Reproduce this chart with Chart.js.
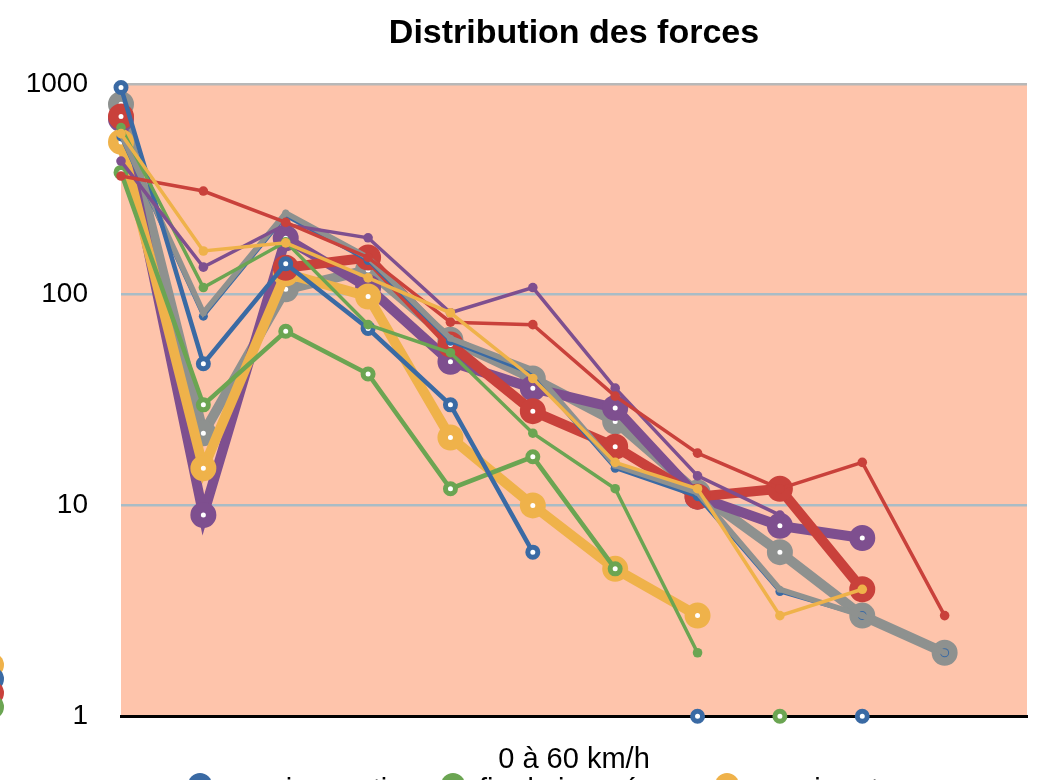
<!DOCTYPE html>
<html lang="fr">
<head>
<meta charset="utf-8">
<title>Distribution des forces</title>
<script src="https://cdn.jsdelivr.net/npm/chart.js@4.4.1/dist/chart.umd.min.js"></script>
<style>
    html, body { margin: 0; padding: 0; overflow: hidden; background: #fff; }
    #wrap { position: relative; width: 1049px; height: 780px; overflow: hidden; font-family: "Liberation Sans", Arial, Helvetica, sans-serif; }
    #chart { display: block; }
    #legend { position: absolute; left: 188px; top: 773px; display: flex; white-space: nowrap; font-size: 29px; line-height: 24px; }
    #legend .item { display: flex; align-items: flex-start; }
    #legend .dot { width: 24px; height: 24px; border-radius: 50%; margin-right: 14px; flex: none; }
    #legend .txt { position: relative; top: 4px; }
    #sideKey { position: absolute; left: -20px; top: 653px; }
    #sideKey .dot { width: 24px; height: 24px; border-radius: 50%; margin-bottom: -10px; }
</style>
</head>
<body>
<div id="wrap">
    <canvas id="chart" width="1049" height="780"></canvas>
    <div id="sideKey"></div>
    <div id="legend"></div>
</div>
<script>
// Axis
const categories = ['1', '2', '3', '4', '5', '6', '7', '8', '9', '10', '11', '12'];
const yTicks = [1, 10, 100, 1000];

// Series (null = no measurement)
const yellowThin  = [580, 161, 176, 120, 82, 40, 16, 12, 3, 4, null];
const redThin     = [365, 310, 220, 150, 74, 72, 33, 17.7, 12, 16, 3];
const purpleThin  = [430, 135, 215, 186, 82, 108, 36, 13.8, 9, null, null];
const greenDots   = [620, 108, 178, 72, 53, 22, 12, 2, null, null, null];
const blueRings   = [960, 47, 140, 69, 30, 6, null, 1, null, 1, null];
const greenRings  = [380, 30, 67, 42, 12, 17, 5, null, 1, null, null];
const grayLine    = [580, 82, 244, 150, 62, 44, 15.5, 11.5, 4, 3, 2];
const blueLine    = [560, 79, 236, 145, 60, 42, 15, 11, 3.9, 3, 2];
const redThick    = [700, null, 134, 150, 58, 28, 19, 11, 12, 4, null];
const yellowThick = [530, 15, 126, 98, 21, 10, 5, 3, null, null, null];
const purpleThick = [680, 9, 185, 108, 48, 36, 29, 11, 8, 7, null];
const grayThick   = [800, 22, 106, 131, 61, 40, 25, 11.5, 6, 3, 2];

const legendNames = ['session matin', 'fin de journée', 'essai route'];

const COLORS = {
    blue: '#3a6aa4',
    green: '#6ba552',
    yellow: '#efb24a',
    red: '#c9413b',
    purple: '#7e4f8f',
    gray: '#8e918f'
};

// line styles
function thin(label, data, color) {
    return { label, data, borderColor: color, backgroundColor: color, borderWidth: 3.5,
        pointRadius: 4.8, pointBorderWidth: 0, pointBackgroundColor: color };
}
function ring(label, data, color) {
    return { label, data, borderColor: color, backgroundColor: color, borderWidth: 4.5,
        pointRadius: 5, pointBorderWidth: 5, pointBorderColor: color, pointBackgroundColor: '#fff' };
}
function thick(label, data, color) {
    return { label, data, borderColor: color, backgroundColor: color, borderWidth: 10,
        pointRadius: 7.75, pointBorderWidth: 10.5, pointBorderColor: color, pointBackgroundColor: '#fff' };
}

// first dataset is drawn on top
const datasets = [
    thin('jaune 2', yellowThin, COLORS.yellow),
    thin('rouge 2', redThin, COLORS.red),
    thin('violet 2', purpleThin, COLORS.purple),
    thin('vert 2', greenDots, COLORS.green),
    ring(legendNames[0], blueRings, COLORS.blue),
    ring(legendNames[1], greenRings, COLORS.green),
    Object.assign(thin('gris 2', grayLine, COLORS.gray), { borderWidth: 5.5, pointRadius: 3.5 }),
    Object.assign(thin('bleu 2', blueLine, COLORS.blue), { borderWidth: 3.5, pointRadius: 4.5 }),
    thick('rouge', redThick, COLORS.red),
    thick(legendNames[2], yellowThick, COLORS.yellow),
    thick('violet', purpleThick, COLORS.purple),
    thick('gris', grayThick, COLORS.gray)
];

// salmon plot background
const plotBackground = {
    id: 'plotBackground',
    beforeDraw(chart) {
        const a = chart.chartArea;
        const ctx = chart.ctx;
        ctx.save();
        ctx.fillStyle = '#fec4ab';
        ctx.fillRect(a.left, a.top, a.right - a.left, a.bottom - a.top);
        ctx.restore();
    }
};

const chart = new Chart(document.getElementById('chart'), {
    type: 'line',
    data: { labels: categories, datasets: datasets },
    options: {
        responsive: false,
        animation: false,
        layout: { padding: { left: 26, right: 22, top: 0, bottom: 3 } },
        elements: { line: { tension: 0 } },
        datasets: { line: { clip: false, spanGaps: false } },
        plugins: {
            legend: { display: false },
            tooltip: { enabled: false },
            title: {
                display: true,
                fullSize: false,
                text: 'Distribution des forces',
                color: '#000',
                font: { family: '"Liberation Sans", Arial, sans-serif', size: 34, weight: 'bold' },
                padding: { top: 13, bottom: 30 }
            }
        },
        scales: {
            x: {
                type: 'category',
                offset: false,
                grid: { display: false, drawTicks: false },
                border: { display: true, color: '#000', width: 3 },
                ticks: { display: false },
                title: {
                    display: true,
                    text: '0 à 60 km/h',
                    color: '#000',
                    font: { family: '"Liberation Sans", Arial, sans-serif', size: 29 },
                    padding: { top: 26, bottom: 0 }
                }
            },
            y: {
                type: 'logarithmic',
                min: 1,
                max: 1000,
                afterBuildTicks(scale) {
                    scale.ticks = yTicks.map(v => ({ value: v }));
                },
                afterFit(scale) {
                    scale.width = 95;
                },
                border: { display: false },
                grid: {
                    drawTicks: false,
                    lineWidth: 2.5,
                    color(ctx) {
                        if (ctx.tick.value === 1000) return '#b8b8b8';
                        if (ctx.tick.value === 1) return 'rgba(0,0,0,0)';
                        return '#a9bcc6';
                    }
                },
                ticks: {
                    padding: 33,
                    color: '#000',
                    font: { family: '"Liberation Sans", Arial, sans-serif', size: 28 },
                    callback: v => String(v)
                }
            }
        }
    },
    plugins: [plotBackground]
});

// bottom legend (first row)
const legend = document.getElementById('legend');
const itemWidths = [253, 274, 260];
[4, 5, 9].forEach(function(i, k) {
    const ds = chart.data.datasets[i];
    const item = document.createElement('div');
    item.className = 'item';
    item.style.width = itemWidths[k] + 'px';
    item.innerHTML = '<span class="dot" style="background:' + ds.borderColor + '"></span><span class="txt">' + ds.label + '</span>';
    legend.appendChild(item);
});

// side key circles
const sideKey = document.getElementById('sideKey');
[COLORS.yellow, COLORS.blue, COLORS.red, COLORS.green].forEach(function(c) {
    const d = document.createElement('div');
    d.className = 'dot';
    d.style.background = c;
    sideKey.appendChild(d);
});
</script>
</body>
</html>
